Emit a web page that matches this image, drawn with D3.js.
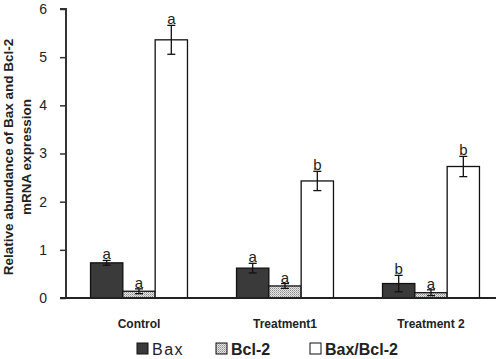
<!DOCTYPE html>
<html>
<head>
<meta charset="utf-8">
<script src="https://cdn.jsdelivr.net/npm/d3@7"></script>
<style>
  body { margin: 0; background: #fff; }
  text { font-family: "Liberation Sans", Arial, sans-serif; }
</style>
</head>
<body>
<div id="chart-area"></div>
<script>
const groups = ["Control", "Treatment1", "Treatment 2"];
const series = ["Bax", "Bcl-2", "Bax/Bcl-2"];
const baxValues = [0.73, 0.62, 0.30];
const bclValues = [0.14, 0.25, 0.11];
const ratioValues = [5.36, 2.43, 2.73];
const baxErrors = [0.05, 0.1, 0.17];
const bclErrors = [0.05, 0.05, 0.06];
const ratioErrors = [0.3, 0.2, 0.21];
const baxLetters = ["a", "a", "b"];
const bclLetters = ["a", "a", "a"];
const ratioLetters = ["a", "b", "b"];
const yTicks = [0, 1, 2, 3, 4, 5, 6];

const width = 496, height = 359;
const svg = d3.select("#chart-area").append("svg")
    .attr("width", width)
    .attr("height", height);

const defs = svg.append("defs");
const pat = defs.append("pattern")
    .attr("id", "dots")
    .attr("width", 2).attr("height", 2)
    .attr("patternUnits", "userSpaceOnUse");
pat.append("rect").attr("width", 2).attr("height", 2).attr("fill", "#e4e4e4");
pat.append("rect").attr("width", 1).attr("height", 1).attr("fill", "#8c8c8c");
pat.append("rect").attr("x", 1).attr("y", 1).attr("width", 1).attr("height", 1).attr("fill", "#b4b4b4");

const fills = {"Bax": "#3a3a3a", "Bcl-2": "url(#dots)", "Bax/Bcl-2": "#fff"};

const x0 = d3.scaleBand().domain(groups).range([66, 504])
    .paddingInner(0.336).paddingOuter(0.168);
const x1 = d3.scaleBand().domain(series).range([0, x0.bandwidth()]);
const y = d3.scaleLinear().domain([0, 6]).range([298, 9]);

// one row per bar
const rows = [];
groups.forEach((g, i) => {
  rows.push({g: g, s: "Bax", v: baxValues[i], e: baxErrors[i], l: baxLetters[i]});
  rows.push({g: g, s: "Bcl-2", v: bclValues[i], e: bclErrors[i], l: bclLetters[i]});
  rows.push({g: g, s: "Bax/Bcl-2", v: ratioValues[i], e: ratioErrors[i], l: ratioLetters[i]});
});

const cx = (d) => x0(d.g) + x1(d.s) + x1.bandwidth() / 2;

svg.selectAll("rect.bar").data(rows).enter().append("rect")
    .attr("class", "bar")
    .attr("x", (d) => x0(d.g) + x1(d.s))
    .attr("y", (d) => y(d.v))
    .attr("width", x1.bandwidth())
    .attr("height", (d) => y(0) - y(d.v))
    .attr("fill", (d) => fills[d.s])
    .attr("stroke", "#111")
    .attr("stroke-width", 1.3);

// error bars + letters
const eb = svg.selectAll("g.err").data(rows).enter().append("g").attr("class", "err");
eb.append("line")
    .attr("x1", cx).attr("x2", cx)
    .attr("y1", (d) => y(d.v + d.e)).attr("y2", (d) => y(d.v - d.e))
    .attr("stroke", "#111").attr("stroke-width", 1.3);
eb.selectAll("line.cap").data((d) => [d.v + d.e, d.v - d.e].map((v) => ({d: d, v: v})))
  .enter().append("line")
    .attr("class", "cap")
    .attr("x1", (c) => cx(c.d) - 4).attr("x2", (c) => cx(c.d) + 4)
    .attr("y1", (c) => y(c.v)).attr("y2", (c) => y(c.v))
    .attr("stroke", "#111").attr("stroke-width", 1.3);
eb.append("text")
    .attr("x", cx)
    .attr("y", (d) => y(d.v + d.e) - 1)
    .attr("text-anchor", "middle")
    .attr("font-size", 15)
    .attr("fill", "#222")
    .text((d) => d.l);

// y axis
const yAxis = svg.append("g")
    .attr("transform", "translate(66,0)")
    .call(d3.axisLeft(y).tickValues(yTicks).tickFormat(d3.format("d")).tickSize(6).tickPadding(13));
yAxis.select(".domain").attr("stroke", "#333").attr("stroke-width", 2).attr("d", "M-6,9H0V298");
yAxis.selectAll(".tick line").attr("stroke", "#333").attr("stroke-width", 1.5);
yAxis.selectAll(".tick text").attr("font-size", 14).attr("fill", "#222")
    .style("font-family", "Liberation Sans, Arial, sans-serif");

// x axis baseline
svg.append("line")
    .attr("x1", 60).attr("x2", 504)
    .attr("y1", y(0)).attr("y2", y(0))
    .attr("stroke", "#222").attr("stroke-width", 2);

// category labels
svg.selectAll("text.cat").data(groups).enter().append("text")
    .attr("class", "cat")
    .attr("x", (d) => x0(d) + x0.bandwidth() / 2)
    .attr("y", 328)
    .attr("text-anchor", "middle")
    .attr("font-size", 12)
    .attr("font-weight", "bold")
    .attr("fill", "#222")
    .text((d) => d);

// y title
const yTitle = svg.append("text")
    .attr("transform", "translate(13,157) rotate(-90)")
    .attr("text-anchor", "middle")
    .attr("font-size", 13.5)
    .attr("font-weight", "bold")
    .attr("fill", "#222");
yTitle.append("tspan").attr("x", 0).attr("dy", 0).text("Relative abundance of Bax and Bcl-2");
yTitle.append("tspan").attr("x", 0).attr("dy", 18).text("mRNA expression");

// legend
const legendX = [137, 216, 310];
const legend = svg.selectAll("g.leg").data(series).enter().append("g")
    .attr("class", "leg")
    .attr("transform", (d, i) => "translate(" + legendX[i] + ",343)");
legend.append("rect")
    .attr("width", 11).attr("height", 11)
    .attr("fill", (d) => fills[d])
    .attr("stroke", "#111").attr("stroke-width", 1);
legend.append("text")
    .attr("x", 15).attr("y", 11.5)
    .attr("font-size", 16)
    .attr("font-weight", (d) => d == "Bax" ? "normal" : "bold")
    .attr("letter-spacing", (d) => d == "Bax" ? 1.5 : 0)
    .attr("fill", "#222")
    .text((d) => d);
</script>
</body>
</html>
